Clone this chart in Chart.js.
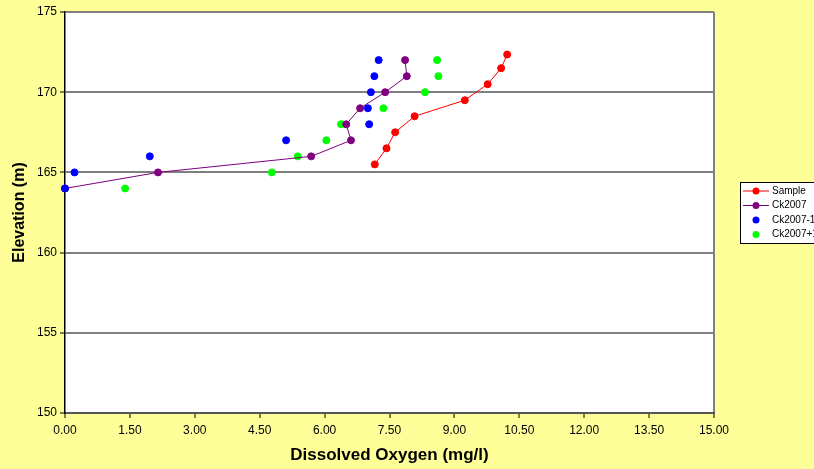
<!DOCTYPE html>
<html>
<head>
<meta charset="utf-8">
<title>Dissolved Oxygen vs Elevation</title>
<script src="https://cdn.jsdelivr.net/npm/chart.js@4.4.1/dist/chart.umd.min.js"></script>
<style>
  body { margin: 0; background: #FFFF99; }
  canvas { display: block; }
</style>
</head>
<body>
<canvas id="doChart" width="814" height="469"></canvas>
<script>
// data
const sampleElevation = [165.5, 166.5, 167.5, 168.5, 169.5, 170.5, 171.5, 172.35];
const sampleDO = [7.16, 7.43, 7.63, 8.08, 9.24, 9.77, 10.08, 10.22];

const ckElevation = [164, 165, 166, 167, 168, 169, 170, 171, 172];
const ck2007DO = [0, 2.15, 5.69, 6.61, 6.50, 6.82, 7.40, 7.90, 7.86];
const ck2007MinusDO = [0, 0.22, 1.96, 5.11, 7.03, 7.00, 7.07, 7.15, 7.25];
const ck2007PlusDO = [1.39, 4.78, 5.38, 6.04, 6.38, 7.36, 8.32, 8.63, 8.60];

const xTicks = [0, 1.5, 3, 4.5, 6, 7.5, 9, 10.5, 12, 13.5, 15];
const yTicks = [150, 155, 160, 165, 170, 175];

const seriesNames = ["Sample", "Ck2007", "Ck2007-1", "Ck2007+1"];
const seriesColors = ["#FF0000", "#800080", "#0000FF", "#00FF00"];
// drawing order: higher number is drawn first (underneath)
const seriesOrder = [3, 1, 0, 2];

function toPoints(xs, ys) {
  return xs.map((x, i) => ({ x: x, y: ys[i] }));
}

function makeSet(i, xs, ys, withLine) {
  return {
    label: seriesNames[i],
    data: toPoints(xs, ys),
    showLine: withLine,
    borderColor: seriesColors[i],
    backgroundColor: seriesColors[i],
    borderWidth: 1,
    pointRadius: 3.5,
    pointBorderWidth: 1,
    pointBorderColor: seriesColors[i],
    pointBackgroundColor: seriesColors[i],
    clip: false,
    order: seriesOrder[i]
  };
}

const FONT = "Arial, 'Liberation Sans', sans-serif";

const backgroundPlugin = {
  id: "background",
  beforeDraw(chart) {
    const { ctx, chartArea } = chart;
    ctx.save();
    ctx.fillStyle = "#FFFF99";
    ctx.fillRect(0, 0, chart.width, chart.height);
    ctx.fillStyle = "#FFFFFF";
    ctx.fillRect(chartArea.left, chartArea.top, chartArea.right - chartArea.left, chartArea.bottom - chartArea.top);
    ctx.restore();
  }
};

const legendPlugin = {
  id: "boxLegend",
  afterDraw(chart) {
    const ctx = chart.ctx;
    const left = 740.5, top = 182.5;
    ctx.save();
    ctx.fillStyle = "#FFFFFF";
    ctx.fillRect(left, top, 90, 61);
    ctx.strokeStyle = "#000000";
    ctx.lineWidth = 1;
    ctx.strokeRect(left, top, 90, 61);
    ctx.font = "10px " + FONT;
    ctx.textBaseline = "middle";
    chart.data.datasets.forEach((ds, i) => {
      const y = 191 + i * 14.5;
      if (ds.showLine) {
        ctx.strokeStyle = ds.borderColor;
        ctx.beginPath();
        ctx.moveTo(743, y);
        ctx.lineTo(769, y);
        ctx.stroke();
      }
      ctx.fillStyle = ds.backgroundColor;
      ctx.beginPath();
      ctx.arc(756, y, 3.5, 0, Math.PI * 2);
      ctx.fill();
      ctx.fillStyle = "#000000";
      ctx.fillText(ds.label, 772, y);
    });
    ctx.restore();
  }
};

new Chart(document.getElementById("doChart"), {
  type: "scatter",
  data: {
    datasets: [
      makeSet(0, sampleDO, sampleElevation, true),
      makeSet(1, ck2007DO, ckElevation, true),
      makeSet(2, ck2007MinusDO, ckElevation, false),
      makeSet(3, ck2007PlusDO, ckElevation, false)
    ]
  },
  options: {
    responsive: false,
    animation: false,
    layout: { padding: { top: 12, right: 100, left: 0, bottom: 0 } },
    plugins: {
      legend: { display: false },
      tooltip: { enabled: false }
    },
    scales: {
      x: {
        type: "linear",
        position: "bottom",
        min: xTicks[0],
        max: xTicks[xTicks.length - 1],
        afterBuildTicks: (s) => { s.ticks = xTicks.map((v) => ({ value: v })); },
        afterFit: (s) => { s.height = 56; },
        ticks: {
          callback: (v) => Number(v).toFixed(2),
          color: "#000",
          font: { family: FONT, size: 12 },
          padding: 5,
          maxRotation: 0,
          autoSkip: false
        },
        grid: {
          drawOnChartArea: true,
          color: (c) => (c.tick && c.tick.value === 15 ? "#808080" : "rgba(0,0,0,0)"),
          lineWidth: 2,
          tickColor: "#000",
          tickWidth: 1,
          tickLength: 5
        },
        border: { color: "#555555", width: 2 },
        title: {
          display: true,
          text: "Dissolved Oxygen (mg/l)",
          color: "#000",
          font: { family: FONT, size: 17, weight: "bold" },
          padding: { top: 0, bottom: 3 }
        }
      },
      y: {
        type: "linear",
        position: "left",
        min: yTicks[0],
        max: yTicks[yTicks.length - 1],
        afterBuildTicks: (s) => { s.ticks = yTicks.map((v) => ({ value: v })); },
        afterFit: (s) => { s.width = 65; },
        ticks: {
          color: "#000",
          font: { family: FONT, size: 12 },
          padding: 3
        },
        grid: {
          drawOnChartArea: true,
          color: (c) => (c.tick && c.tick.value === 150 ? "rgba(0,0,0,0)" : "#808080"),
          lineWidth: 2,
          tickColor: "#000",
          tickWidth: 1,
          tickLength: 5
        },
        border: { color: "#000000", width: 1.5 },
        title: {
          display: true,
          text: "Elevation (m)",
          color: "#000",
          font: { family: FONT, size: 16, weight: "bold" },
          padding: { top: 10, bottom: 0 }
        }
      }
    }
  },
  plugins: [backgroundPlugin, legendPlugin]
});
</script>
</body>
</html>
